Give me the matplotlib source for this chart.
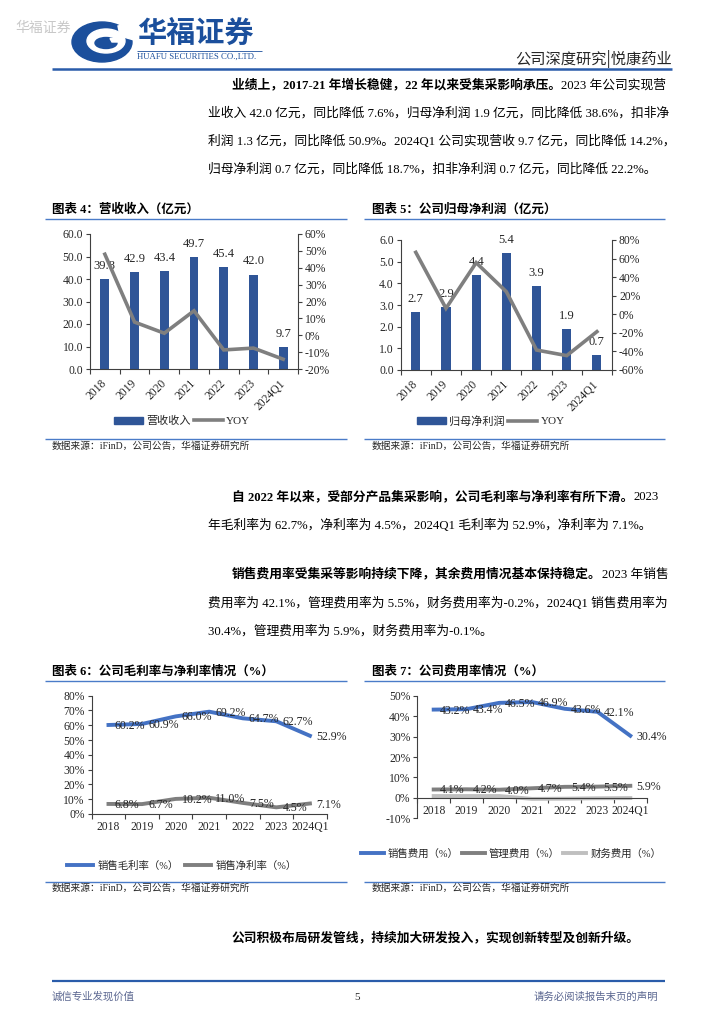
import numpy as np
import matplotlib
matplotlib.use("Agg")
import matplotlib.pyplot as plt
from matplotlib.patches import Ellipse, Patch, Polygon
from matplotlib.lines import Line2D

# ---------------- data ----------------
years = ["2018", "2019", "2020", "2021", "2022", "2023", "2024Q1"]

revenue = [39.8, 42.9, 43.4, 49.7, 45.4, 42.0, 9.7]
revenue_yoy = [48.0, 7.8, 1.2, 14.5, -8.7, -7.6, -14.2]

net_profit = [2.7, 2.9, 4.4, 5.4, 3.9, 1.9, 0.7]
net_profit_yoy = [66.7, 6.4, 55.6, 24.3, -38.5, -44.5, -18.7]

gross_margin = [60.2, 60.9, 66.0, 69.2, 64.7, 62.7, 52.9]
net_margin = [6.8, 6.7, 10.2, 11.0, 7.5, 4.5, 7.1]

sales_exp = [43.2, 43.4, 46.5, 46.9, 43.6, 42.1, 30.4]
admin_exp = [4.1, 4.2, 4.0, 4.7, 5.4, 5.5, 5.9]
fin_exp = [0.9, 0.9, 0.9, -0.5, -0.4, -0.2, -0.1]

# ---------------- setup ----------------
W, H = 724, 1024
SERIF = ['Liberation Serif', 'Noto Sans CJK SC']
CJK = ['Noto Sans CJK SC', 'Liberation Serif']
plt.rcParams['font.family'] = SERIF
plt.rcParams['axes.unicode_minus'] = False

BAR_BLUE = '#2F5597'
LINE_BLUE = '#4472C4'
GRAY = '#7F7F7F'
LGRAY = '#BFBFBF'
RULE = '#4A7BC8'
TXT = '#262626'

fig = plt.figure(figsize=(W / 100, H / 100), dpi=100)
renderer = fig.canvas.get_renderer()

ov = fig.add_axes([0, 0, 1, 1], zorder=-5)
ov.set_xlim(0, W)
ov.set_ylim(H, 0)
ov.axis('off')


def hline(y, x0, x1, color=RULE, lw=1.0):
    ov.plot([x0, x1], [y, y], color=color, lw=lw, solid_capstyle='butt')


def runs(x, y, parts, size=9.2, color='black'):
    for s, bold in parts:
        t = ov.text(x, y, s, fontsize=size, fontweight='bold' if bold else 'normal',
                    family=SERIF, va='center', ha='left', color=color)
        bb = t.get_window_extent(renderer=renderer)
        x += bb.width


def ax_px(l, t, r, b):
    return fig.add_axes([l / W, 1 - b / H, (r - l) / W, (b - t) / H])


# ---------------- header ----------------
ov.text(15, 28, "华福证券", fontsize=10, color='#C8C8C8', family=CJK, va='center', ha='left')
LOGO = '#1B4F9C'
ov.add_patch(Ellipse((102, 42), 60, 40, color=LOGO))
ov.add_patch(Ellipse((106, 41), 38, 24, color='white'))
ov.add_patch(Polygon([[118, 26], [134, 22], [134, 40], [120, 36]], closed=True, color='white'))
ov.add_patch(Ellipse((106, 43), 22, 11, color=LOGO))
ov.add_patch(Polygon([[110, 38.5], [122, 38], [122, 42], [112, 42]], closed=True, color='white'))
ov.text(137, 33, "华福证券", fontsize=21, fontweight='bold', color=LOGO, family=CJK,
        va='center', ha='left')
hline(50.5, 137, 262, color=LOGO, lw=0.6)
ov.text(137, 57, "HUAFU SECURITIES CO.,LTD.", fontsize=6.3, color=LOGO, family=SERIF,
        va='center', ha='left')
ov.text(672, 59, "公司深度研究|悦康药业", fontsize=11, color=TXT, family=CJK,
        va='center', ha='right')
hline(68.5, 52, 672, color='#2A5CAA', lw=1.8)

# ---------------- body text ----------------
runs(232, 85, [("业绩上，2017-21 年增长稳健，22 年以来受集采影响承压。", True),
               ("2023 年公司实现营", False)])
runs(208, 113, [("业收入 42.0 亿元，同比降低 7.6%，归母净利润 1.9 亿元，同比降低 38.6%，扣非净", False)])
runs(208, 141, [("利润 1.3 亿元，同比降低 50.9%。2024Q1 公司实现营收 9.7 亿元，同比降低 14.2%，", False)])
runs(208, 169, [("归母净利润 0.7 亿元，同比降低 18.7%，扣非净利润 0.7 亿元，同比降低 22.2%。", False)])

runs(232, 497, [("自 2022 年以来，受部分产品集采影响，公司毛利率与净利率有所下滑。", True),
                ("2023", False)])
runs(208, 525, [("年毛利率为 62.7%，净利率为 4.5%，2024Q1 毛利率为 52.9%，净利率为 7.1%。", False)])

runs(232, 575, [("销售费用率受集采等影响持续下降，其余费用情况基本保持稳定。", True),
                ("2023 年销售", False)])
runs(208, 603, [("费用率为 42.1%，管理费用率为 5.5%，财务费用率为-0.2%，2024Q1 销售费用率为", False)])
runs(208, 631, [("30.4%，管理费用率为 5.9%，财务费用率为-0.1%。", False)])

runs(232, 938, [("公司积极布局研发管线，持续加大研发投入，实现创新转型及创新升级。", True)])

# ---------------- chart titles / rules / sources ----------------
for (x0, x1, tx, ty, title) in [
        (45, 347, 52, 210, "图表 4：营收收入（亿元）"),
        (364, 665, 372, 210, "图表 5：公司归母净利润（亿元）"),
        (45, 347, 52, 672, "图表 6：公司毛利率与净利率情况（%）"),
        (364, 665, 372, 672, "图表 7：公司费用率情况（%）")]:
    ov.text(tx, ty, title, fontsize=9, fontweight='bold', family=SERIF, va='center', ha='left')
    hline(ty + 9, x0, x1)

for (x0, x1, tx, ly) in [(45, 347, 52, 439), (364, 665, 372, 439),
                         (45, 347, 52, 881.5), (364, 665, 372, 881.5)]:
    hline(ly, x0, x1)
    ov.text(tx, ly + 7, "数据来源：iFinD，公司公告，华福证券研究所", fontsize=7,
            family=SERIF, color=TXT, va='center', ha='left')

# footer
hline(980.5, 52, 665, color='#2A5CAA', lw=1.6)
ov.text(52, 997, "诚信专业发现价值", fontsize=7.5, family=CJK, color='#5A6690', va='center', ha='left')
ov.text(357, 997, "5", fontsize=8, family=SERIF, color=TXT, va='center', ha='center')
ov.text(658, 997, "请务必阅读报告末页的声明", fontsize=7.5, family=CJK, color='#5A6690',
        va='center', ha='right')

x = np.arange(len(years))
TICKFS = 8.4


def style_axis(ax):
    ax.spines['top'].set_visible(False)
    for s in ['left', 'right', 'bottom']:
        ax.spines[s].set_color('#404040')
        ax.spines[s].set_linewidth(0.8)
    ax.tick_params(axis='y', length=3, width=0.8, colors='#404040', labelsize=TICKFS,
                   labelcolor=TXT, pad=2)
    ax.set_xlim(-0.5, len(years) - 0.5)
    ax.set_xticks(x)
    ax.set_xticks(np.arange(-0.5, len(years)), minor=True)
    ax.tick_params(axis='x', which='major', length=0, labelsize=TICKFS, labelcolor=TXT)
    ax.tick_params(axis='x', which='minor', length=3.5, width=0.8, colors='#404040')


def bar_line_chart(box, bars, yoy, ylim_l, step_l, ylim_r, step_r, legend_label, legend_center):
    ax = ax_px(*box)
    ax.bar(x, bars, width=0.3, color=BAR_BLUE, zorder=2)
    ax.set_ylim(*ylim_l)
    ax.set_yticks(np.arange(ylim_l[0], ylim_l[1] + step_l / 2, step_l))
    ax.set_yticklabels([f"{v:.1f}" for v in ax.get_yticks()])
    style_axis(ax)
    ax.spines['right'].set_visible(False)
    ax.set_xticklabels(years, rotation=45, ha='right', va='center', rotation_mode='anchor')
    ax.tick_params(axis='x', which='major', pad=9)
    for xi, v in zip(x, bars):
        ax.annotate(f"{v:.1f}", (xi, v), xytext=(0, 7), textcoords='offset pixels',
                    ha='center', va='bottom', fontsize=9, color=TXT)
    ax2 = ax.twinx()
    ax2.plot(x, yoy, color=GRAY, lw=2.6, solid_joinstyle='miter')
    ax2.set_ylim(*ylim_r)
    ax2.set_yticks(np.arange(ylim_r[0], ylim_r[1] + step_r / 2, step_r))
    ax2.set_yticklabels([f"{int(v)}%" for v in ax2.get_yticks()])
    for s in ['top', 'left', 'bottom']:
        ax2.spines[s].set_visible(False)
    ax2.spines['right'].set_color('#404040')
    ax2.spines['right'].set_linewidth(0.8)
    ax2.tick_params(axis='y', length=3, width=0.8, colors='#404040', labelsize=TICKFS,
                    labelcolor=TXT, pad=2)
    handles = [Patch(color=BAR_BLUE), Line2D([0], [0], color=GRAY, lw=2.6)]
    fig.legend(handles, [legend_label, "YOY"], loc='center',
               bbox_to_anchor=(legend_center[0] / W, 1 - legend_center[1] / H),
               ncol=2, frameon=False, fontsize=8, handlelength=2.6, handleheight=0.6,
               columnspacing=0.3, handletextpad=0.3, labelcolor=TXT)


bar_line_chart((90, 234, 298, 369), revenue, revenue_yoy, (0, 60), 10, (-20, 60), 10,
               "营收收入", (182, 421))
bar_line_chart((400.7, 240, 612, 370), net_profit, net_profit_yoy, (0, 6), 1, (-60, 80), 20,
               "归母净利润", (491, 421))


def line_chart(box, series, ylim, step, labelled, legend_labels, legend_center,
               zero_axis=False, hl=2.5, cs=0.6):
    ax = ax_px(*box)
    for vals, color in series:
        ax.plot(x, vals, color=color, lw=2.8, solid_joinstyle='round')
    for vals in labelled:
        for xi, v in zip(x, vals):
            ax.annotate(f"{v:.1f}%", (xi, v), xytext=(6, -1), textcoords='offset pixels',
                        ha='left', va='center', fontsize=8.6, color=TXT)
    ax.set_ylim(*ylim)
    ax.set_yticks(np.arange(ylim[0], ylim[1] + step / 2, step))
    ax.set_yticklabels([f"{int(v)}%" for v in ax.get_yticks()])
    style_axis(ax)
    ax.spines['right'].set_visible(False)
    ax.set_xticklabels(years)
    ax.tick_params(axis='x', which='major', pad=5)
    if zero_axis:
        ax.spines['bottom'].set_position(('data', 0))
    handles = [Line2D([0], [0], color=c, lw=2.8) for _, c in series]
    fig.legend(handles, legend_labels, loc='center',
               bbox_to_anchor=(legend_center[0] / W, 1 - legend_center[1] / H),
               ncol=len(series), frameon=False, fontsize=7.5, handlelength=hl,
               columnspacing=cs, handletextpad=0.4, labelcolor=TXT)
    return ax


line_chart((91.7, 695.7, 326.7, 814), [(gross_margin, LINE_BLUE), (net_margin, GRAY)],
           (0, 80), 10, [gross_margin, net_margin],
           ["销售毛利率（%）", "销售净利率（%）"], (182, 866))
line_chart((417.3, 695.7, 646.7, 818.3),
           [(sales_exp, LINE_BLUE), (admin_exp, GRAY), (fin_exp, LGRAY)],
           (-10, 50), 10, [sales_exp, admin_exp],
           ["销售费用（%）", "管理费用（%）", "财务费用（%）"], (511, 854),
           zero_axis=True, hl=2.2, cs=0.3)

fig.savefig("out.png", dpi=100)
